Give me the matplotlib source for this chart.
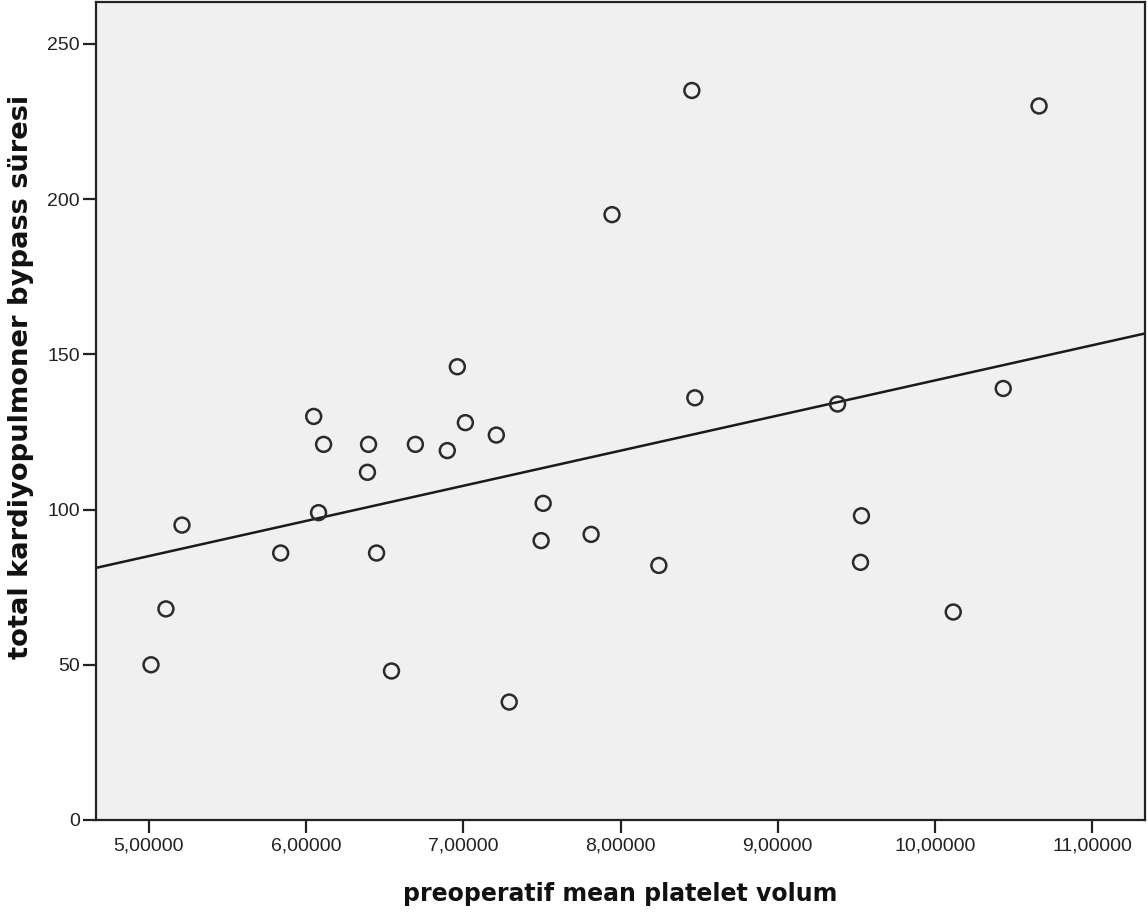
import matplotlib
matplotlib.use("Agg")
import matplotlib.pyplot as plt
import numpy as np

plt.rcParams['font.family'] = ['Liberation Sans', 'DejaVu Sans']

mpv = [5.013, 5.108, 5.21, 5.838, 6.048, 6.079, 6.111, 6.39, 6.397, 6.448,
       6.543, 6.695, 6.898, 6.962, 7.013, 7.21, 7.292, 7.495, 7.508, 7.813,
       7.946, 8.244, 8.454, 8.473, 9.381, 9.527, 9.533, 10.117, 10.435, 10.663]
cpb = [50, 68, 95, 86, 130, 99, 121, 112, 121, 86,
       48, 121, 119, 146, 128, 124, 38, 90, 102, 92,
       195, 82, 235, 136, 134, 83, 98, 67, 139, 230]
xticks = [5, 6, 7, 8, 9, 10, 11]
xticklabels = ["5,00000", "6,00000", "7,00000", "8,00000", "9,00000", "10,00000", "11,00000"]
yticks = [0, 50, 100, 150, 200, 250]

fig = plt.figure(figsize=(11.48, 9.15), dpi=100)
ax = fig.add_axes([96/1148, 1-820/915, (1145-96)/1148, (820-2)/915])
ax.set_facecolor('#f0f0f0')

ax.scatter(mpv, cpb, s=115, facecolors='none', edgecolors='#2b2b2b', linewidths=1.8, zorder=3)

xlim = (4.663, 11.337)
slope, intercept = np.polyfit(mpv, cpb, 1)
xs = np.array(xlim)
ax.plot(xs, slope*xs + intercept, color='#1a1a1a', lw=1.8, zorder=2)

ax.set_xlim(*xlim)
ax.set_ylim(0, 263.5)
ax.set_xticks(xticks)
ax.set_xticklabels(xticklabels)
ax.set_yticks(yticks)
for s in ax.spines.values():
    s.set_linewidth(1.6)
    s.set_color('#222222')
ax.tick_params(axis='both', length=9.5, width=1.6, color='#222222', labelsize=14, labelcolor='#222222')
ax.tick_params(axis='x', pad=3)
ax.tick_params(axis='y', pad=2)

ax.set_xlabel('preoperatif mean platelet volum', fontsize=17, fontweight='bold',
              family=['DejaVu Sans'], color='#111111')
ax.xaxis.set_label_coords(0.5, -62/818, transform=ax.transAxes)
ax.set_ylabel('total kardiyopulmoner bypass süresi', fontsize=19.7, fontweight='bold',
              family=['DejaVu Sans'], color='#111111')
ax.yaxis.set_label_coords(-62/1049, (820-377)/818, transform=ax.transAxes)

fig.savefig('out.png', dpi=100)
